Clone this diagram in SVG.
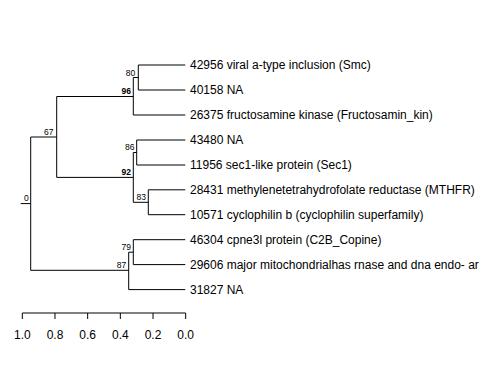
<svg xmlns="http://www.w3.org/2000/svg" width="480" height="384" viewBox="0 0 480 384">
<style>
.e{stroke:#000;stroke-width:1;fill:none}
.lf{font-family:"Liberation Sans",Arial,sans-serif;font-size:12px;fill:#000}
.bs{font-family:"Liberation Sans",Arial,sans-serif;font-size:8.5px;fill:#000;text-anchor:end}
.bb{font-weight:bold}
.ax{font-family:"Liberation Sans",Arial,sans-serif;font-size:12px;fill:#000;text-anchor:middle}
</style>
<rect width="480" height="384" fill="#fff"/>
<g id="connectors">
<path class="e" d="M20.7,203.6H30.7M30.7,137V270.3"/>
<path class="e" d="M30.7,137H56.7M56.7,96.5V177.4"/>
<path class="e" d="M56.7,96.5H133.3M133.3,77.5V115"/>
<path class="e" d="M133.3,77.5H138.3M138.3,65V90"/>
<path class="e" d="M138.3,65H185.3M138.3,90H185.3M133.3,115H185.3"/>
<path class="e" d="M56.7,177.4H133.3M133.3,152.5V202.3"/>
<path class="e" d="M133.3,152.5H136.7M136.7,140V165M136.7,140H185.3M136.7,165H185.3"/>
<path class="e" d="M133.3,202.3H148.3M148.3,189.8V214.7M148.3,189.8H185.3M148.3,214.7H185.3"/>
<path class="e" d="M30.7,270.3H128.7M128.7,252.2V289.6M128.7,289.6H185.3"/>
<path class="e" d="M128.7,252.2H133.3M133.3,239.7V264.6M133.3,239.7H185.3M133.3,264.6H185.3"/>
</g>
<g id="node-labels">
<text class="bs" x="28.7" y="201">0</text>
<text class="bs" x="53.5" y="134.7">67</text>
<text class="bs bb" x="131" y="94">96</text>
<text class="bs" x="135.3" y="76">80</text>
<text class="bs bb" x="131" y="175">92</text>
<text class="bs" x="134.5" y="150">86</text>
<text class="bs" x="146" y="199.5">83</text>
<text class="bs" x="126.3" y="268">87</text>
<text class="bs" x="131" y="249.7">79</text>
</g>
<g id="leaf-labels">
<text class="lf" x="190" y="69.3">42956 viral a-type inclusion (Smc)</text>
<text class="lf" x="190" y="94.3">40158 NA</text>
<text class="lf" x="190" y="119.3">26375 fructosamine kinase (Fructosamin_kin)</text>
<text class="lf" x="190" y="144.3">43480 NA</text>
<text class="lf" x="190" y="169.3">11956 sec1-like protein (Sec1)</text>
<text class="lf" x="190" y="194.1">28431 methylenetetrahydrofolate reductase (MTHFR)</text>
<text class="lf" x="190" y="219">10571 cyclophilin b (cyclophilin superfamily)</text>
<text class="lf" x="190" y="244">46304 cpne3l protein (C2B_Copine)</text>
<text class="lf" x="190" y="268.9">29606 major mitochondrialhas rnase and dna endo- ar</text>
<text class="lf" x="190" y="293.9">31827 NA</text>
</g>
<g id="axis">
<path class="e" d="M22.3,313H185.7M22.3,313V319M54.98,313V319M87.66,313V319M120.34,313V319M153.02,313V319M185.7,313V319"/>
<text class="ax" x="22.3" y="338.5">1.0</text>
<text class="ax" x="54.98" y="338.5">0.8</text>
<text class="ax" x="87.66" y="338.5">0.6</text>
<text class="ax" x="120.34" y="338.5">0.4</text>
<text class="ax" x="153.02" y="338.5">0.2</text>
<text class="ax" x="185.7" y="338.5">0.0</text>
</g>
</svg>
